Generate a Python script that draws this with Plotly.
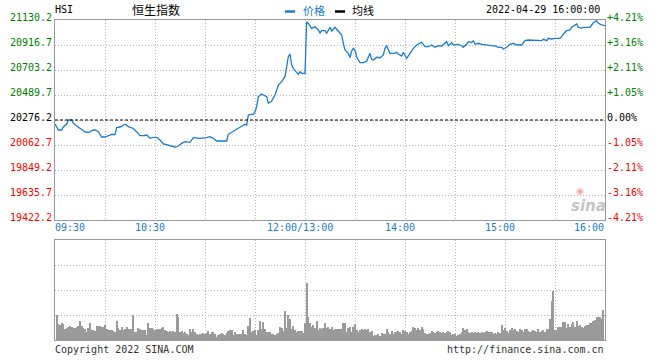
import plotly.graph_objects as go

# ---------------- data ----------------
prev_close = 20276.2
price_ticks = [21130.2, 20916.7, 20703.2, 20489.7, 20276.2, 20062.7, 19849.2, 19635.7, 19422.2]
price_tick_text = ["21130.2", "20916.7", "20703.2", "20489.7", "20276.2", "20062.7", "19849.2", "19635.7", "19422.2"]
pct_tick_text = ["+4.21%", "+3.16%", "+2.11%", "+1.05%", "0.00%", "-1.05%", "-2.11%", "-3.16%", "-4.21%"]
x_tick_times = ["09:30", "10:30", "12:00", "14:00", "15:00", "16:00"]
x_tick_text = ["09:30", "10:30", "12:00/13:00", "14:00", "15:00", "16:00"]
grid_times = ["09:30", "10:00", "10:30", "11:00", "11:30", "12:00", "13:30", "14:00",
              "14:30", "15:00", "15:30", "16:00"]

price_times = [
    "09:30", "09:32", "09:34", "09:35", "09:37", "09:38", "09:40", "09:41", "09:43", "09:45",
    "09:46", "09:48", "09:50", "09:53", "09:54", "09:56", "09:58", "10:00", "10:02", "10:04",
    "10:06", "10:07", "10:09", "10:11", "10:12", "10:14", "10:17", "10:19", "10:21", "10:23",
    "10:25", "10:27", "10:29", "10:31", "10:33", "10:35", "10:37", "10:40", "10:42", "10:44",
    "10:46", "10:48", "10:51", "10:53", "10:57", "11:01", "11:03", "11:05", "11:07", "11:10",
    "11:13", "11:14", "11:16", "11:19", "11:22", "11:24", "11:25", "11:26", "11:28", "11:29",
    "11:30", "11:31", "11:32", "11:34", "11:35", "11:37", "11:38", "11:40", "11:42", "11:44",
    "11:46", "11:48", "11:49", "11:50", "11:51", "11:52", "11:53", "11:55", "11:56", "11:57",
    "11:58", "12:00",
    "13:01", "13:02", "13:04", "13:06", "13:08", "13:09", "13:10", "13:12", "13:13", "13:15",
    "13:16", "13:18", "13:20", "13:22", "13:23", "13:24", "13:26", "13:27", "13:28", "13:29",
    "13:30", "13:31", "13:33", "13:35", "13:37", "13:38", "13:39", "13:40", "13:41", "13:43",
    "13:45", "13:47", "13:48", "13:49", "13:50", "13:51", "13:54", "13:55", "13:56", "13:58",
    "13:59", "14:01", "14:03", "14:05", "14:07", "14:09", "14:10", "14:11", "14:12", "14:14",
    "14:16", "14:18", "14:20", "14:22", "14:24", "14:25", "14:26", "14:28", "14:29", "14:32",
    "14:34", "14:35", "14:37", "14:38", "14:40", "14:41", "14:42", "14:44", "14:46", "14:48",
    "14:50", "14:52", "14:54", "14:56", "14:58", "14:59", "15:01", "15:03", "15:05", "15:07",
    "15:10", "15:12", "15:14", "15:18", "15:20", "15:22", "15:23", "15:25", "15:26", "15:28",
    "15:30", "15:33", "15:34", "15:35", "15:37", "15:39", "15:40", "15:41", "15:43", "15:44",
    "15:46", "15:47", "15:51", "15:52", "15:53", "15:55", "15:56", "15:58", "15:59", "16:00",
]
prices = [
    20242.0, 20190.8, 20190.8, 20216.4, 20242.0, 20276.2, 20276.2, 20250.6, 20225.0, 20207.9,
    20195.1, 20173.7, 20169.4, 20190.8, 20190.8, 20176.3, 20131.0, 20131.0, 20142.1, 20154.1,
    20152.4, 20212.1, 20216.4, 20227.5, 20239.5, 20219.0, 20203.6, 20176.3, 20142.1, 20142.1,
    20148.1, 20119.9, 20128.5, 20128.5, 20105.4, 20071.2, 20062.7, 20048.2, 20045.6, 20054.2,
    20077.2, 20090.9, 20085.8, 20125.0, 20119.9, 20125.0, 20133.6, 20119.9, 20096.9, 20096.9,
    20096.9, 20154.1, 20171.2, 20199.3, 20227.5, 20239.5, 20233.5, 20318.9, 20324.9, 20324.9,
    20347.1, 20389.8, 20475.2, 20498.2, 20489.7, 20475.2, 20418.8, 20438.5, 20489.7, 20575.1,
    20603.3, 20646.0, 20731.4, 20816.8, 20839.8, 20745.9, 20717.7, 20688.7, 20666.5, 20688.7,
    20675.0, 20675.0,
    21115.7, 21102.0, 21059.3, 21073.0, 21044.8, 21019.2, 21038.8, 21038.8, 21016.6, 21067.9,
    21036.3, 21067.9, 21036.3, 21002.2, 20931.2, 20874.0, 20845.8, 20808.2, 20865.5, 20888.5,
    20874.0, 20816.8, 20765.5, 20765.5, 20780.1, 20808.2, 20845.8, 20794.6, 20788.6, 20811.7,
    20808.2, 20831.3, 20888.5, 20910.7, 20874.0, 20845.8, 20845.8, 20854.4, 20839.8, 20822.8,
    20854.4, 20803.1, 20845.8, 20888.5, 20916.7, 20931.2, 20939.8, 20922.7, 20902.2, 20902.2,
    20916.7, 20897.1, 20910.7, 20908.2, 20931.2, 20944.9, 20910.7, 20936.3, 20916.7, 20922.7,
    20910.7, 20897.1, 20922.7, 20944.9, 20939.8, 20950.9, 20922.7, 20931.2, 20922.7, 20916.7,
    20916.7, 20910.7, 20908.2, 20897.1, 20897.1, 20882.5, 20897.1, 20922.7, 20931.2, 20916.7,
    20916.7, 20953.4, 20959.4, 20959.4, 20953.4, 20953.4, 20965.4, 20953.4, 20973.9, 20967.9,
    20973.9, 20973.9, 20987.6, 21010.6, 21038.8, 21044.8, 21067.9, 21079.0, 21096.0, 21067.9,
    21059.3, 21067.9, 21067.9, 21087.5, 21107.2, 21124.2, 21102.0, 21087.5, 21087.5, 21081.5,
]

# per-minute volume, 09:31-12:00 and 13:01-15:59 (relative units)
volume_am = [
    25, 15.7, 15, 17.3, 15.7, 11, 12.3, 13.3, 14, 12.7,
    12.3, 12.3, 12.7, 14, 19, 14, 12.3, 10.7, 8.3, 11.7,
    16.7, 10, 10, 9.3, 14, 14, 14, 12.7, 13.3, 15,
    11, 10, 10, 10, 9.3, 8.3, 19, 11.7, 10, 13.3,
    10, 11, 13.3, 11, 11, 11, 25, 8.3, 8.3, 11.7,
    10.7, 10, 10, 10, 5, 16.7, 12.3, 11.7, 10.7, 10,
    10.7, 10.7, 11, 11.7, 13.3, 10, 9.3, 8.3, 9.3, 8.3,
    9.3, 8.3, 26, 23.3, 8.3, 9.3, 6.7, 7.7, 6, 5,
    11, 8.3, 11, 8.3, 6, 5, 5.7, 5.7, 6.7, 6,
    6.7, 9, 6, 8.3, 7.7, 6, 3.3, 5, 5.7, 6.7,
    6, 5, 6.7, 9.3, 10, 10, 5, 8.3, 6, 6,
    6, 6, 10, 5.7, 5, 14, 22.3, 8.3, 9, 10,
    5, 10, 19, 10.7, 18.3, 10.7, 8.3, 8.3, 8.3, 6,
    6, 5, 6, 7.3, 13.3, 12.3, 9.3, 29, 12.3, 25,
    20.7, 10.7, 14, 10, 8.3, 9, 9, 9, 6.7, 16.7,
]
volume_pm = [
    57.3, 22.7, 16.7, 13.3, 15, 11.7, 19.3, 10, 12.3, 11,
    12.3, 16.7, 11.7, 13.3, 11.3,
    12.7, 10, 11, 10.7, 10.7, 11, 11, 16.7, 16.7, 8.3,
    12.3, 13.3, 8.3, 13.3, 15.7, 10, 8.3, 10, 10.7, 10,
    10.7, 10, 10.7, 8.3, 9, 4, 5, 5, 6, 4,
    6.7, 6, 6, 11, 7.7, 6, 9.3, 6, 7.7, 7.7,
    9, 8.3, 6, 10, 9, 8.3, 6, 8.3, 9.3, 12.7,
    11.7, 10, 12.3, 10, 12.7, 11, 7.3, 6, 6, 6.7,
    9, 8.3, 6.7, 8.3, 9.3, 8.3, 6.7, 8.3, 6.7, 7.7,
    9.3, 8.3, 5, 6, 5.7, 4, 5, 6, 8.3, 11.7,
    10, 11, 8.3, 6.7, 8.3, 6.7, 8.3, 6.7, 7.7, 6.7,
    8.3, 6.7, 8.3, 9.3, 8.3, 8.3, 8.3, 6, 6.7, 5.7,
    8.3, 6.7, 15, 10, 11.7, 9.3, 7.3, 10, 12.3, 10,
    11, 9.3, 8.3, 11, 10, 8.3, 11, 11, 9.3, 8.3,
    9.3, 10, 9.3, 8.3, 10.7, 8.3, 9, 10, 8.3, 11,
    11, 20.7, 39, 49, 10, 10, 13.3, 13.3, 12.7, 17.7,
    17.7, 12.3, 15.7, 13.3, 15.7, 18.3, 13.3, 19, 14, 15,
    13.3, 12.3, 14, 15, 15, 16.7, 17.3, 19.3, 20, 22.7,
    22.7, 22.7, 20.7, 30,
]


def to_idx(t):
    h, m = map(int, t.split(":"))
    mins = h * 60 + m
    if mins <= 12 * 60:
        return mins - (9 * 60 + 30)
    return 150 + mins - 13 * 60


price_x = [to_idx(t) for t in price_times]
vol_x = list(range(1, len(volume_am) + 1)) + list(range(151, 151 + len(volume_pm)))
volumes = volume_am + volume_pm

BLUE = "#1a7ccc"
GRID = "#b4b4b4"
FRAME = "#999999"
FONT = "DejaVu Sans Mono"

fig = go.Figure()
fig.add_trace(go.Scatter(x=price_x, y=prices, mode="lines",
                         line=dict(color=BLUE, width=1.3), xaxis="x", yaxis="y",
                         hoverinfo="skip"))
fig.add_trace(go.Bar(x=vol_x, y=volumes, width=0.6, marker=dict(color="#9a9a9a", line_width=0),
                     xaxis="x2", yaxis="y2", hoverinfo="skip"))

grid_vals = [to_idx(t) for t in grid_times]
axis_common = dict(range=[0, 330], tickvals=grid_vals, showticklabels=False, showgrid=True,
                   gridcolor=GRID, griddash="1px,2px", gridwidth=1, zeroline=False,
                   showline=True, mirror=True, linecolor=FRAME, linewidth=1, ticks="")
fig.update_layout(
    width=660, height=360,
    margin=dict(l=55, r=55, t=20, b=20, autoexpand=False),
    paper_bgcolor="white", plot_bgcolor="white",
    showlegend=False, bargap=0,
    font=dict(family=FONT, size=10, color="#000"),
    xaxis=dict(domain=[0, 1], anchor="y", **axis_common),
    xaxis2=dict(domain=[0, 1], anchor="y2", **axis_common),
    yaxis=dict(domain=[0.375, 1], range=[price_ticks[-1], price_ticks[0]], tickvals=price_ticks,
               showticklabels=False, showgrid=True, gridcolor=GRID, griddash="1px,2px",
               zeroline=False, showline=True, mirror=True, linecolor=FRAME, linewidth=1, ticks=""),
    yaxis2=dict(domain=[0, 0.3125], range=[0, 100], tickvals=[25, 50, 75],
                showticklabels=False, showgrid=True, gridcolor=GRID, griddash="1px,2px",
                zeroline=False, showline=True, mirror=True, linecolor=FRAME, linewidth=1, ticks=""),
)

# previous close dashed line
fig.add_shape(type="line", xref="x", yref="y", x0=0, x1=330, y0=prev_close, y1=prev_close,
              line=dict(color="#000", width=1, dash="3px,2px"))

ann = []
for v, lt, rt in zip(price_ticks, price_tick_text, pct_tick_text):
    if v > prev_close + 0.01:
        c = "#008000"
    elif v < prev_close - 0.01:
        c = "#ff0000"
    else:
        c = "#000000"
    ann.append(dict(xref="paper", yref="y", x=0, y=v, text=lt, xanchor="right", yanchor="middle",
                    xshift=-1, yshift=3, showarrow=False, font=dict(color=c, size=10, family=FONT)))
    ann.append(dict(xref="paper", yref="y", x=1, y=v, text=rt, xanchor="left", yanchor="middle",
                    xshift=0, yshift=3, showarrow=False, font=dict(color=c, size=10, family=FONT)))

for i, (t, lab) in enumerate(zip(x_tick_times, x_tick_text)):
    if i == 0:
        xa, xs = "left", -2
    elif i == len(x_tick_times) - 1:
        xa, xs = "right", 1
    else:
        xa, xs = "center", -5.5
    ann.append(dict(xref="x", yref="paper", x=to_idx(t), y=0.375, text=lab, xanchor=xa,
                    yanchor="middle", xshift=xs, yshift=-7.5, showarrow=False,
                    font=dict(color=BLUE, size=10, family=FONT)))

CJK = "Noto Sans CJK SC"
ann += [
    dict(xref="paper", yref="paper", x=0, y=1, text="HSI", xanchor="left", yanchor="middle",
         xshift=-2, yshift=10.5, showarrow=False, font=dict(size=10, family=FONT)),
    dict(xref="paper", yref="paper", x=(131 - 55) / 550, y=1, text="恒生指数", xanchor="left",
         yanchor="middle", xshift=-1, yshift=10.5, showarrow=False, font=dict(size=12, family=CJK)),
    dict(xref="paper", yref="paper", x=(301.7 - 55) / 550, y=1, text="价格", xanchor="left",
         yanchor="middle", xshift=-1, yshift=10.5, showarrow=False,
         font=dict(size=11, family=CJK, color=BLUE)),
    dict(xref="paper", yref="paper", x=(350.7 - 55) / 550, y=1, text="均线", xanchor="left",
         yanchor="middle", xshift=-1, yshift=10.5, showarrow=False,
         font=dict(size=11, family=CJK, color="#000")),
    dict(xref="paper", yref="paper", x=(601 - 55) / 550, y=1, text="2022-04-29 16:00:00",
         xanchor="right", yanchor="middle", xshift=1, yshift=10.5, showarrow=False,
         font=dict(size=10, family=FONT)),
    dict(xref="paper", yref="paper", x=0, y=0, text="Copyright 2022 SINA.COM", xanchor="left",
         yanchor="middle", xshift=-2, yshift=-9.5, showarrow=False,
         font=dict(size=10, family=FONT, color="#333")),
    dict(xref="paper", yref="paper", x=1, y=0, text="http://finance.sina.com.cn", xanchor="right",
         yanchor="middle", xshift=1, yshift=-9.5, showarrow=False,
         font=dict(size=10, family=FONT, color="#333")),
    dict(xref="paper", yref="paper", x=(588 - 55) / 550, y=(340 - 206) / 320,
         text="<b><i>sina</i></b>", xanchor="center", yanchor="middle", showarrow=False,
         font=dict(size=15, family="DejaVu Sans", color="#c4c4c4")),
    dict(xref="paper", yref="paper", x=(580 - 55) / 550, y=(340 - 191) / 320,
         text="◉", xanchor="center", yanchor="middle", showarrow=False,
         font=dict(size=9, family="DejaVu Sans", color="#f2a8a8")),
]
fig.update_layout(annotations=ann)

# legend dashes
fig.add_shape(type="line", xref="paper", yref="paper", x0=(285 - 55) / 550, x1=(295 - 55) / 550,
              y0=(340 - 11.5) / 320, y1=(340 - 11.5) / 320, line=dict(color=BLUE, width=2.5))
fig.add_shape(type="line", xref="paper", yref="paper", x0=(335 - 55) / 550, x1=(345 - 55) / 550,
              y0=(340 - 11.5) / 320, y1=(340 - 11.5) / 320, line=dict(color="#000", width=2.5))

fig.write_html("out.html", config=dict(displayModeBar=False),
               post_script="document.body.style.margin='0';document.body.style.padding='0';")
